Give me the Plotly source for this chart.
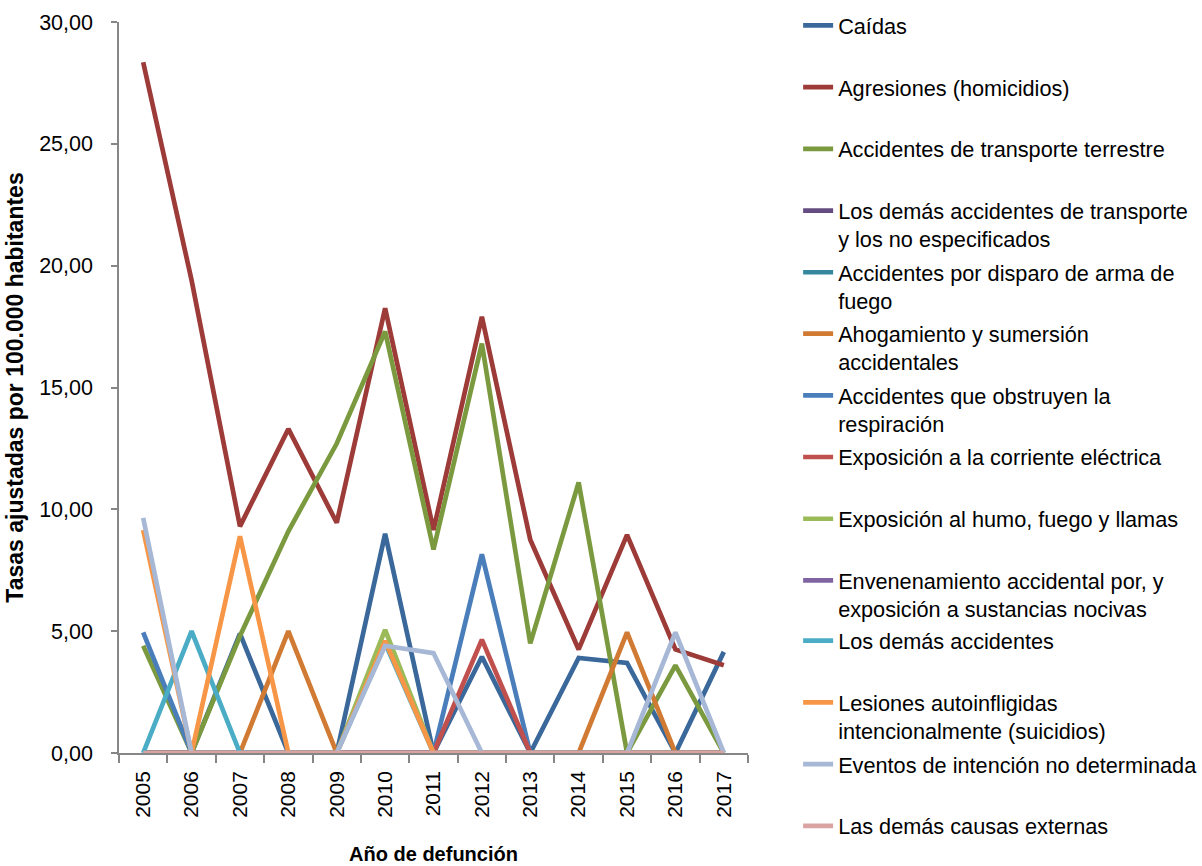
import plotly.graph_objects as go

# Categories (year of death)
years = ["2005", "2006", "2007", "2008", "2009", "2010", "2011",
         "2012", "2013", "2014", "2015", "2016", "2017"]

# Adjusted rates per 100.000 inhabitants, one list per cause
caidas = [0, 0, 4.9, 0, 0, 9.0, 0, 3.95, 0, 3.9, 3.7, 0, 4.15]
agresiones = [28.35, 19.4, 9.3, 13.3, 9.45, 18.25, 9.15, 17.9, 8.75, 4.25, 8.95, 4.25, 3.6]
transporte_terrestre = [4.4, 0, 4.8, 9.1, 12.7, 17.3, 8.35, 16.8, 4.5, 11.1, 0, 3.6, 0]
demas_transporte = [0, 0, 0, 0, 0, 0, 0, 0, 0, 0, 0, 0, 0]
arma_fuego = [0, 0, 0, 0, 0, 0, 0, 0, 0, 0, 0, 0, 0]
ahogamiento = [0, 0, 0, 5.0, 0, 0, 0, 0, 0, 0, 4.95, 0, 0]
obstruyen_respiracion = [4.95, 0, 0, 0, 0, 0, 0, 8.15, 0, 0, 0, 0, 0]
corriente_electrica = [0, 0, 0, 0, 0, 0, 0, 4.65, 0, 0, 0, 0, 0]
humo_fuego = [0, 0, 0, 0, 0, 5.05, 0, 0, 0, 0, 0, 0, 0]
envenenamiento = [0, 0, 0, 0, 0, 0, 0, 0, 0, 0, 0, 0, 0]
demas_accidentes = [0, 5.0, 0, 0, 0, 4.5, 0, 0, 0, 0, 0, 0, 0]
suicidios = [9.15, 0, 8.9, 0, 0, 4.6, 0, 0, 0, 0, 0, 0, 0]
intencion_no_det = [9.65, 0, 0, 0, 0, 4.4, 4.1, 0, 0, 0, 0, 4.95, 0]
demas_causas = [0, 0, 0, 0, 0, 0, 0, 0, 0, 0, 0, 0, 0]

series = [
    ("Caídas", caidas, "#3A689A"),
    ("Agresiones (homicidios)", agresiones, "#9C3B38"),
    ("Accidentes de transporte terrestre", transporte_terrestre, "#7B9A3F"),
    ("Los demás accidentes de transporte<br>y los no especificados", demas_transporte, "#654C82"),
    ("Accidentes por disparo de arma de<br>fuego", arma_fuego, "#35879E"),
    ("Ahogamiento y sumersión<br>accidentales", ahogamiento, "#D07A33"),
    ("Accidentes que obstruyen la<br>respiración", obstruyen_respiracion, "#4A7EBB"),
    ("Exposición a la corriente eléctrica", corriente_electrica, "#C0504D"),
    ("Exposición al humo, fuego y llamas", humo_fuego, "#9BBB59"),
    ("Envenenamiento accidental por, y<br>exposición a sustancias nocivas", envenenamiento, "#8064A2"),
    ("Los demás accidentes", demas_accidentes, "#4BACC6"),
    ("Lesiones autoinfligidas<br>intencionalmente (suicidios)", suicidios, "#F79646"),
    ("Eventos de intención no determinada", intencion_no_det, "#A6B8D6"),
    ("Las demás causas externas", demas_causas, "#D9A3A1"),
]

# the legend column is split in three stacked blocks
def legend_for(i):
    if i < 5:
        return "legend"
    if i < 10:
        return "legend2"
    return "legend3"

fig = go.Figure()
for i, (name, values, color) in enumerate(series):
    label = name
    # give every legend entry two text lines so the entries are evenly spaced
    if "<br>" not in label:
        label = label + "<br> "
    fig.add_trace(go.Scatter(
        x=years, y=values, name=label, mode="lines",
        legendgroup=f"g{i}",
        legend=legend_for(i),
        line=dict(color=color, width=4.7),
        hoverinfo="x+y",
    ))

axis_grey = "#868686"
legend_font = dict(size=21.7, family="Liberation Sans, Arial, sans-serif", color="#000000")


def legend_block(ytop):
    return dict(
        xref="container", yref="container",
        x=0.664, y=ytop, xanchor="left", yanchor="top",
        traceorder="grouped", tracegroupgap=2.3,
        valign="top", font=legend_font,
        bgcolor="rgba(0,0,0,0)",
    )


fig.update_layout(
    width=1202, height=866,
    margin=dict(l=119, r=454, t=22, b=113),
    paper_bgcolor="white", plot_bgcolor="white",
    separators=",.",
    font=dict(family="Liberation Sans, Arial, sans-serif", color="#000000"),
    legend=legend_block(0.9945),
    legend2=legend_block(0.6386),
    legend3=legend_block(0.2840),
    xaxis=dict(
        type="category", range=[-0.5, 12.5],
        automargin=False,
        showline=True, linecolor=axis_grey, linewidth=1.5,
        ticks="outside", ticklen=8, tickcolor=axis_grey, tickwidth=1.5,
        tickson="boundaries",
        tickangle=-90,
        tickfont=dict(size=21),
        ticklabelstandoff=8,
        showgrid=False, zeroline=False,
        title=dict(text="<b>Año de defunción</b>", font=dict(size=20), standoff=30),
    ),
    yaxis=dict(
        range=[0, 30], dtick=5, tickformat=".2f",
        automargin=False,
        showline=True, linecolor=axis_grey, linewidth=1.5,
        ticks="outside", ticklen=6, tickcolor=axis_grey, tickwidth=1.5,
        tickfont=dict(size=21.5),
        ticklabelstandoff=14,
        showgrid=False, zeroline=False,
        title=dict(text="<b>Tasas ajustadas por 100.000 habitantes</b>",
                   font=dict(size=23), standoff=9),
    ),
)

fig.write_html("out.html")
